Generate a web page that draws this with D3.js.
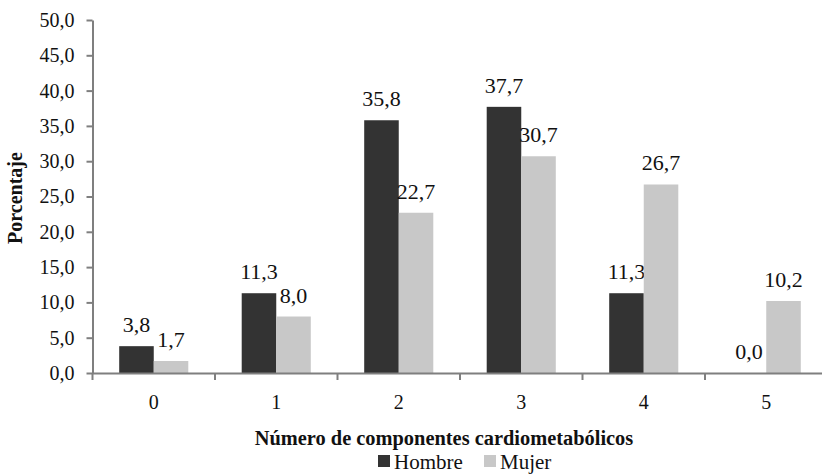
<!DOCTYPE html>
<html><head><meta charset="utf-8">
<script src="https://cdn.jsdelivr.net/npm/d3@7"></script>
<style>body{margin:0;background:#fff}svg{display:block}svg text{font-family:"Liberation Serif","Times New Roman",Tinos,serif !important}</style>
</head><body><svg id="c" width="822" height="476"></svg>
<script>
const categories = ["0","1","2","3","4","5"];
const hombre = [3.8, 11.3, 35.8, 37.7, 11.3, 0.0];
const mujer = [1.7, 8.0, 22.7, 30.7, 26.7, 10.2];
const yTicks = [0,5,10,15,20,25,30,35,40,45,50];
const seriesNames = ["Hombre","Mujer"];
const colors = ["#333333","#c8c8c8"];

const svg = d3.select("#c");
const x = d3.scaleBand().domain(categories).range([92.5, 827.5]).padding(0);
const y = d3.scaleLinear().domain([0,50]).range([373, 20]);
const bw = x.bandwidth()*0.282;
const fmt = v => d3.format(".1f")(v).replace(".", ",");

// bars
const series = [hombre, mujer];
series.forEach((vals, si) => {
  svg.append("g").selectAll("rect").data(vals).join("rect")
    .attr("x", (d,i) => x(categories[i]) + x.bandwidth()/2 - bw + si*bw)
    .attr("y", d => y(d))
    .attr("width", bw)
    .attr("height", d => y(0) - y(d))
    .attr("fill", colors[si]);
  svg.append("g").selectAll("text").data(vals).join("text")
    .attr("x", (d,i) => x(categories[i]) + x.bandwidth()/2 - bw/2 + si*bw)
    .attr("y", d => y(d) - 14)
    .attr("text-anchor","middle")
    .attr("font-size", 22)
    .attr("fill","#111")
    .text(d => fmt(d));
});

// y axis
const ya = svg.append("g").attr("transform","translate(92.5,0)")
  .call(d3.axisLeft(y).tickValues(yTicks).tickFormat(fmt).tickSize(6).tickSizeOuter(0).tickPadding(12));
ya.selectAll("path,line").attr("stroke","#7f7f7f").attr("stroke-width",2);
ya.selectAll("text").attr("font-size",20).attr("fill","#111");

// x axis
const xa = svg.append("g").attr("transform",`translate(0,${y(0)})`)
  .call(d3.axisBottom(x).tickSize(0).tickPadding(22));
xa.select("path").attr("stroke","#7f7f7f").attr("stroke-width",2);
xa.selectAll("text").attr("font-size",20).attr("fill","#111");
svg.append("g").selectAll("line").data(categories).join("line")
  .attr("x1", d => x(d)).attr("x2", d => x(d))
  .attr("y1", y(0)).attr("y2", y(0)+7)
  .attr("stroke","#7f7f7f").attr("stroke-width",2);

// axis titles
svg.append("text").attr("x", 444).attr("y", 445).attr("text-anchor","middle")
  .attr("font-size",20.4).attr("font-weight","bold").attr("fill","#111")
  .text("Número de componentes cardiometabólicos");
svg.append("text").attr("transform","translate(22,198) rotate(-90)").attr("text-anchor","middle")
  .attr("font-size",20).attr("font-weight","bold").attr("fill","#111")
  .text("Porcentaje");

// legend
const leg = svg.append("g");
const legX = [378, 484];
seriesNames.forEach((n,i) => {
  leg.append("rect").attr("x", legX[i]).attr("y", 455).attr("width", 12).attr("height", 12).attr("fill", colors[i]);
  leg.append("text").attr("x", legX[i]+16).attr("y", 469).attr("font-size", 21).attr("fill","#111").text(n);
});
</script></body></html>
